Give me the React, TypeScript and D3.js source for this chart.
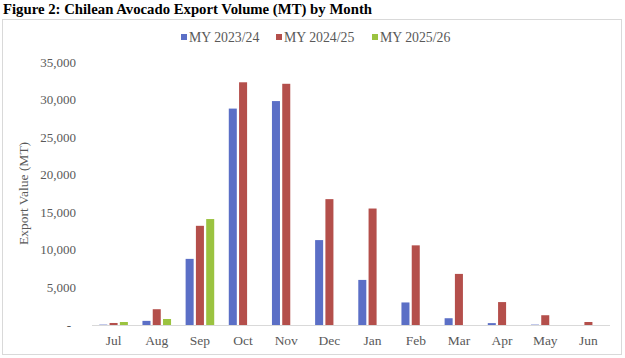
import React from "react";
import * as d3 from "d3";

const months = ["Jul", "Aug", "Sep", "Oct", "Nov", "Dec", "Jan", "Feb", "Mar", "Apr", "May", "Jun"];
const seriesNames = ["MY 2023/24", "MY 2024/25", "MY 2025/26"];
const my2324 = [50, 550, 8800, 28800, 29800, 11300, 6000, 3000, 900, 250, 50, 0];
const my2425 = [270, 2100, 13200, 32300, 32100, 16750, 15500, 10600, 6800, 3050, 1300, 400];
const my2526 = [400, 800, 14100, 0, 0, 0, 0, 0, 0, 0, 0, 0];
const yTicks = [0, 5000, 10000, 15000, 20000, 25000, 30000, 35000];
const colors = ["#5b6fc6", "#b44f4b", "#9bc340"];

export default function App() {
  const W = 625, H = 358;
  const left = 92, right = 610, top = 62, bottom = 325;
  const x = d3.scaleBand<string>().domain(months).range([left, right]).paddingInner(0).paddingOuter(0);
  const y = d3.scaleLinear().domain([0, 35000]).range([bottom, top]);
  const inner = d3.scaleBand<number>().domain([0, 1, 2]).range([-14.3, 14.3]).paddingInner(0.22);
  const series = [my2324, my2425, my2526];
  const fmt = d3.format(",");
  const font = "'Liberation Serif', 'Times New Roman', serif";
  const legendX = [181, 276, 372];
  return (
    <svg width={W} height={H} style={{ position: "absolute", left: 0, top: 0, background: "#fff" }} fontFamily={font}>
      <text x={3} y={14} fontSize={15.5} fontWeight="bold" fill="#000" textLength={369} lengthAdjust="spacingAndGlyphs">Figure 2: Chilean Avocado Export Volume (MT) by Month</text>
      <rect x={2.5} y={19.5} width={619} height={335} fill="none" stroke="#d9d9d9" strokeWidth={1} />
      {seriesNames.map((s, i) => (
        <g key={s}>
          <rect x={legendX[i]} y={34} width={6} height={6} fill={colors[i]} />
          <text x={legendX[i] + 8} y={41.5} fontSize={13.8} fill="#595959">{s}</text>
        </g>
      ))}
      {yTicks.map((t) => (
        <text key={t} x={t === 0 ? 71 : 76} y={y(t) + 4.5} fontSize={13} fill="#595959" textAnchor="end">
          {t === 0 ? "-" : fmt(t)}
        </text>
      ))}
      <text transform={`translate(28,${(top + bottom) / 2}) rotate(-90)`} textAnchor="middle" fontSize={13.5} fill="#595959">Export Value (MT)</text>
      {series.map((vals, si) =>
        vals.map((v, mi) =>
          v > 0 ? (
            <rect
              key={`${si}-${mi}`}
              x={(x(months[mi]) as number) + x.bandwidth() / 2 + (inner(si) as number)}
              y={y(v)}
              width={inner.bandwidth()}
              height={bottom - y(v)}
              fill={colors[si]}
            />
          ) : null
        )
      )}
      <line x1={left} x2={right} y1={bottom + 0.5} y2={bottom + 0.5} stroke="#d9d9d9" strokeWidth={1} />
      {months.map((m) => (
        <text key={m} x={(x(m) as number) + x.bandwidth() / 2} y={345} fontSize={13.5} fill="#595959" textAnchor="middle">{m}</text>
      ))}
    </svg>
  );
}
